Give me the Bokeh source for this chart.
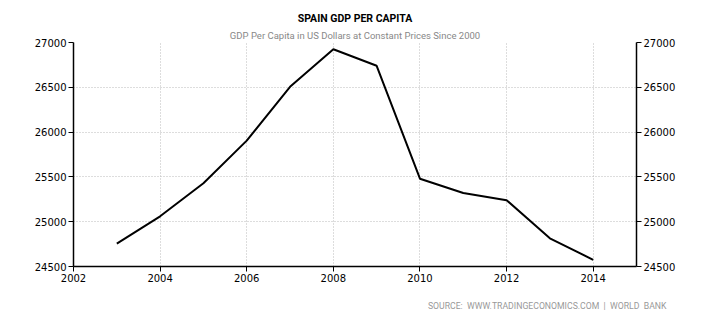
from bokeh.plotting import figure
from bokeh.models import LinearAxis, FixedTicker, Title, Range1d
from bokeh.embed import file_html
from bokeh.resources import INLINE

years = [2003, 2004, 2005, 2006, 2007, 2008, 2009, 2010, 2011, 2012, 2013, 2014]
gdp = [24755, 25060, 25430, 25905, 26505, 26925, 26740, 25480, 25320, 25240, 24815, 24575]
x_ticks = [2002, 2004, 2006, 2008, 2010, 2012, 2014]
y_ticks = [24500, 25000, 25500, 26000, 26500, 27000]

FONT = "DejaVu Sans"
NB = "\u00a0"

p = figure(width=710, height=325, output_backend="svg", toolbar_location=None,
           x_range=Range1d(2002, 2015), y_range=Range1d(24500, 27000),
           min_border_left=73, min_border_right=74, min_border_top=42, min_border_bottom=58,
           x_axis_location=None, y_axis_location=None)
p.outline_line_color = None
p.background_fill_color = "white"
p.border_fill_color = "white"

p.line(years, gdp, line_color="black", line_width=2)

def style_axis(ax):
    ax.axis_line_color = "black"
    ax.axis_line_width = 1.5
    ax.major_tick_line_color = "black"
    ax.major_tick_in = 0
    ax.major_tick_out = 5
    ax.minor_tick_line_color = None
    ax.major_label_text_font = FONT
    ax.major_label_text_font_size = "10px"
    ax.major_label_text_color = "black"
    ax.major_label_standoff = 2

xa = LinearAxis(ticker=FixedTicker(ticks=x_ticks))
style_axis(xa)
p.add_layout(xa, "below")
ya = LinearAxis(ticker=FixedTicker(ticks=y_ticks))
style_axis(ya)
p.add_layout(ya, "left")
yb = LinearAxis(ticker=FixedTicker(ticks=y_ticks))
style_axis(yb)
p.add_layout(yb, "right")

p.xgrid.ticker = FixedTicker(ticks=x_ticks)
p.ygrid.ticker = FixedTicker(ticks=y_ticks)
for g in (p.xgrid, p.ygrid):
    g.grid_line_color = "#bbbbbb"
    g.grid_line_dash = "1 2"
    g.grid_line_width = 1

src_text = "SOURCE:" + NB * 2 + "WWW.TRADINGECONOMICS.COM" + NB * 2 + "|" + NB * 2 + "WORLD" + NB * 2 + "BANK"
src = Title(text=src_text, align="right",
            text_font="Roboto", text_font_size="8.7px", text_font_style="normal",
            text_color="#999999", offset=-30, standoff=29)
p.add_layout(src, "below")

sub = Title(text="GDP Per Capita in US Dollars at Constant Prices Since 2000", align="center",
            text_font="Roboto", text_font_size="9.5px", text_font_style="normal",
            text_color="#888888", standoff=3)
p.add_layout(sub, "above")
ttl = Title(text="SPAIN GDP PER CAPITA", align="center",
            text_font="Roboto", text_font_size="10.5px", text_font_style="bold",
            text_color="black", standoff=3)
p.add_layout(ttl, "above")

open("out.html", "w").write(file_html(p, INLINE))
